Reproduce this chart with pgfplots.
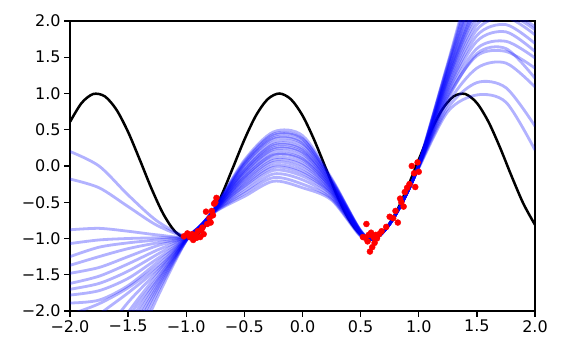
\documentclass[border=0pt]{standalone}
\usepackage{pgfplots}
\pgfplotsset{compat=1.18}
\usepackage{pgfplotstable}
\usepackage{fontspec}
\setmainfont{DejaVu Sans}

\pgfplotstableread{
x c1 c2 c3 c4 c5 c6 c7 c8 c9 c10 c11 c12 c13 c14 c15 c16 c17 c18 c19 c20 c21 c22
-2 0.20 -0.18 -0.88 -1.07 -1.25 -1.37 -1.48 -1.62 -1.70 -1.78 -1.89 -2.05 -2.40 -2.90 -3.20 -3.50 -3.80 -4.10 -4.40 -4.70 -5.00 -5.40
-1.75 0.00 -0.30 -0.86 -1.02 -1.12 -1.25 -1.40 -1.52 -1.62 -1.72 -1.85 -1.90 -2.05 -2.40 -2.65 -2.85 -3.05 -3.25 -3.45 -3.65 -3.85 -4.10
-1.5 -0.40 -0.56 -0.90 -1.00 -1.06 -1.14 -1.25 -1.35 -1.45 -1.55 -1.65 -1.68 -1.75 -1.88 -2.02 -2.10 -2.20 -2.30 -2.40 -2.50 -2.62 -2.75
-1.25 -0.76 -0.82 -0.95 -0.99 -1.02 -1.06 -1.10 -1.16 -1.22 -1.28 -1.33 -1.38 -1.42 -1.46 -1.50 -1.55 -1.58 -1.62 -1.66 -1.70 -1.75 -1.82
-1 -0.97 -0.97 -0.98 -0.98 -0.98 -0.99 -0.99 -0.99 -0.99 -1.00 -1.00 -1.00 -1.01 -1.01 -1.01 -1.02 -1.02 -1.02 -1.02 -1.03 -1.03 -1.03
-0.875 -0.84 -0.84 -0.84 -0.84 -0.83 -0.83 -0.83 -0.83 -0.83 -0.83 -0.83 -0.83 -0.83 -0.83 -0.83 -0.82 -0.82 -0.82 -0.82 -0.82 -0.82 -0.82
-0.75 -0.59 -0.61 -0.58 -0.60 -0.57 -0.63 -0.59 -0.60 -0.62 -0.57 -0.59 -0.61 -0.58 -0.63 -0.57 -0.60 -0.61 -0.58 -0.62 -0.59 -0.60 -0.58
-0.5 -0.10 -0.28 0.02 -0.21 0.06 -0.38 -0.06 -0.16 -0.35 0.08 -0.12 -0.26 -0.02 -0.42 0.04 -0.15 -0.23 0.01 -0.31 -0.08 -0.18 -0.05
-0.25 0.23 -0.02 0.39 0.08 0.44 -0.16 0.28 0.15 -0.11 0.47 0.20 0.01 0.33 -0.21 0.42 0.16 0.05 0.37 -0.06 0.25 0.11 0.30
0 0.17 -0.10 0.33 0.01 0.38 -0.25 0.22 0.08 -0.19 0.42 0.13 -0.07 0.28 -0.30 0.37 0.10 -0.03 0.31 -0.14 0.19 0.04 0.24
0.25 -0.28 -0.39 -0.21 -0.34 -0.19 -0.45 -0.25 -0.31 -0.43 -0.17 -0.29 -0.37 -0.23 -0.47 -0.19 -0.31 -0.36 -0.22 -0.40 -0.27 -0.33 -0.25
0.5 -0.92 -0.95 -0.90 -0.94 -0.89 -0.96 -0.91 -0.93 -0.96 -0.89 -0.92 -0.94 -0.91 -0.97 -0.90 -0.93 -0.94 -0.90 -0.95 -0.92 -0.93 -0.91
0.625 -1.00 -1.00 -1.00 -1.00 -1.00 -1.00 -1.00 -1.00 -1.00 -1.00 -1.00 -1.00 -1.00 -1.00 -1.00 -1.00 -1.00 -1.00 -1.00 -1.00 -1.00 -1.00
0.75 -0.80 -0.80 -0.80 -0.80 -0.80 -0.80 -0.80 -0.80 -0.80 -0.80 -0.80 -0.80 -0.80 -0.80 -0.80 -0.80 -0.80 -0.80 -0.80 -0.80 -0.80 -0.80
0.875 -0.45 -0.45 -0.45 -0.45 -0.45 -0.45 -0.45 -0.45 -0.45 -0.45 -0.45 -0.45 -0.45 -0.45 -0.45 -0.45 -0.45 -0.45 -0.45 -0.45 -0.45 -0.45
1 0.00 0.01 -0.01 0.02 0.00 -0.03 0.03 -0.01 0.01 0.02 0.00 0.02 -0.02 0.01 0.00 0.02 -0.01 0.03 0.00 0.02 -0.01 0.01
1.25 1.02 1.22 0.86 1.32 1.12 0.75 1.40 0.95 1.18 1.27 1.08 1.38 0.80 1.25 1.05 1.35 0.92 1.42 1.15 1.30 0.98 1.20
1.5 1.72 2.20 1.35 2.45 1.95 0.98 2.70 1.52 2.10 2.30 1.88 2.60 1.15 2.25 1.80 2.50 1.55 2.80 2.02 2.40 1.62 2.15
1.75 1.85 2.50 1.42 2.90 2.10 0.88 3.30 1.58 2.30 2.70 2.05 3.20 1.08 2.60 1.95 3.00 1.62 3.50 2.15 2.80 1.72 2.40
2 1.58 2.50 1.09 3.10 1.88 0.22 3.70 1.35 2.10 2.80 1.81 3.50 0.55 2.60 1.69 3.30 1.21 4.00 1.92 2.90 1.49 2.30
}\samples

\begin{document}
\begin{tikzpicture}
\path (-70pt,-45pt) rectangle (493pt,311pt);
\begin{axis}[
  scale only axis,
  width=465pt, height=290pt,
  xmin=-2, xmax=2, ymin=-2, ymax=2,
  xtick={-2,-1.5,...,2},
  ytick={-2,-1.5,...,2},
  xticklabels={−2.0,−1.5,−1.0,−0.5,0.0,0.5,1.0,1.5,2.0},
  yticklabels={−2.0,−1.5,−1.0,−0.5,0.0,0.5,1.0,1.5,2.0},
  tick align=outside,
  tick pos=left,
  major tick length=5.8pt,
  every tick/.style={black, line width=1.3pt},
  axis line style={line width=1.3pt},
  tick label style={font=\fontsize{16}{19}\selectfont},
  clip=true,
]
\addplot[black, line width=2.5pt, smooth] coordinates {
(-2.0,0.6084) (-1.9,0.8694) (-1.8,0.9932) (-1.7,0.9602) (-1.6,0.7756)
(-1.5,0.4685) (-1.4,0.0875) (-1.3,-0.3073) (-1.2,-0.6536) (-1.1,-0.8968)
(-1.0,-0.9983) (-0.9,-0.9422) (-0.8,-0.7374) (-0.7,-0.4161) (-0.6,-0.0292)
(-0.5,0.3624) (-0.4,0.6967) (-0.3,0.9211) (-0.2,1.0) (-0.1,0.9211)
(0.0,0.6967) (0.1,0.3624) (0.2,-0.0292) (0.3,-0.4161) (0.4,-0.7374)
(0.5,-0.9422) (0.6,-0.9983) (0.7,-0.8968) (0.8,-0.6536) (0.9,-0.3073)
(1.0,0.0875) (1.1,0.4685) (1.2,0.7756) (1.3,0.9602) (1.4,0.9932)
(1.5,0.8694) (1.6,0.6084) (1.7,0.2513) (1.8,-0.1455) (1.9,-0.5193) (2.0,-0.8111)
};
\addplot[only marks, mark=*, mark size=3pt, mark options={draw=red, fill=red}] coordinates {
(-1.02,-0.97) (-0.99,-0.93) (-0.97,-0.98) (-0.95,-0.94) (-0.94,-1.02) (-0.92,-0.95)
(-0.91,-0.99) (-0.90,-0.90) (-0.88,-0.98) (-0.87,-0.88) (-0.86,-0.85) (-0.85,-0.94)
(-0.83,-0.63) (-0.82,-0.80) (-0.80,-0.72) (-0.79,-0.78) (-0.78,-0.62) (-0.77,-0.68)
(-0.76,-0.52) (-0.75,-0.50) (-0.74,-0.44)
(0.52,-0.98) (0.54,-0.99) (0.55,-0.80) (0.56,-1.04) (0.57,-0.95) (0.58,-1.18)
(0.59,-0.92) (0.60,-1.12) (0.61,-0.98) (0.62,-1.06) (0.63,-0.95) (0.64,-1.00)
(0.66,-0.94) (0.68,-0.90) (0.72,-0.84) (0.75,-0.70) (0.78,-0.72) (0.80,-0.62)
(0.82,-0.78) (0.84,-0.45) (0.85,-0.50) (0.87,-0.56) (0.88,-0.36) (0.90,-0.30)
(0.92,-0.25) (0.94,0.00) (0.96,-0.10) (0.97,-0.29) (0.99,0.05) (1.00,-0.08)
};
\pgfplotsinvokeforeach{1,...,22}{
  \addplot[blue, opacity=0.3, line width=2.8pt, smooth] table[x=x, y=c#1] {\samples};
}
\end{axis}
\end{tikzpicture}
\end{document}
